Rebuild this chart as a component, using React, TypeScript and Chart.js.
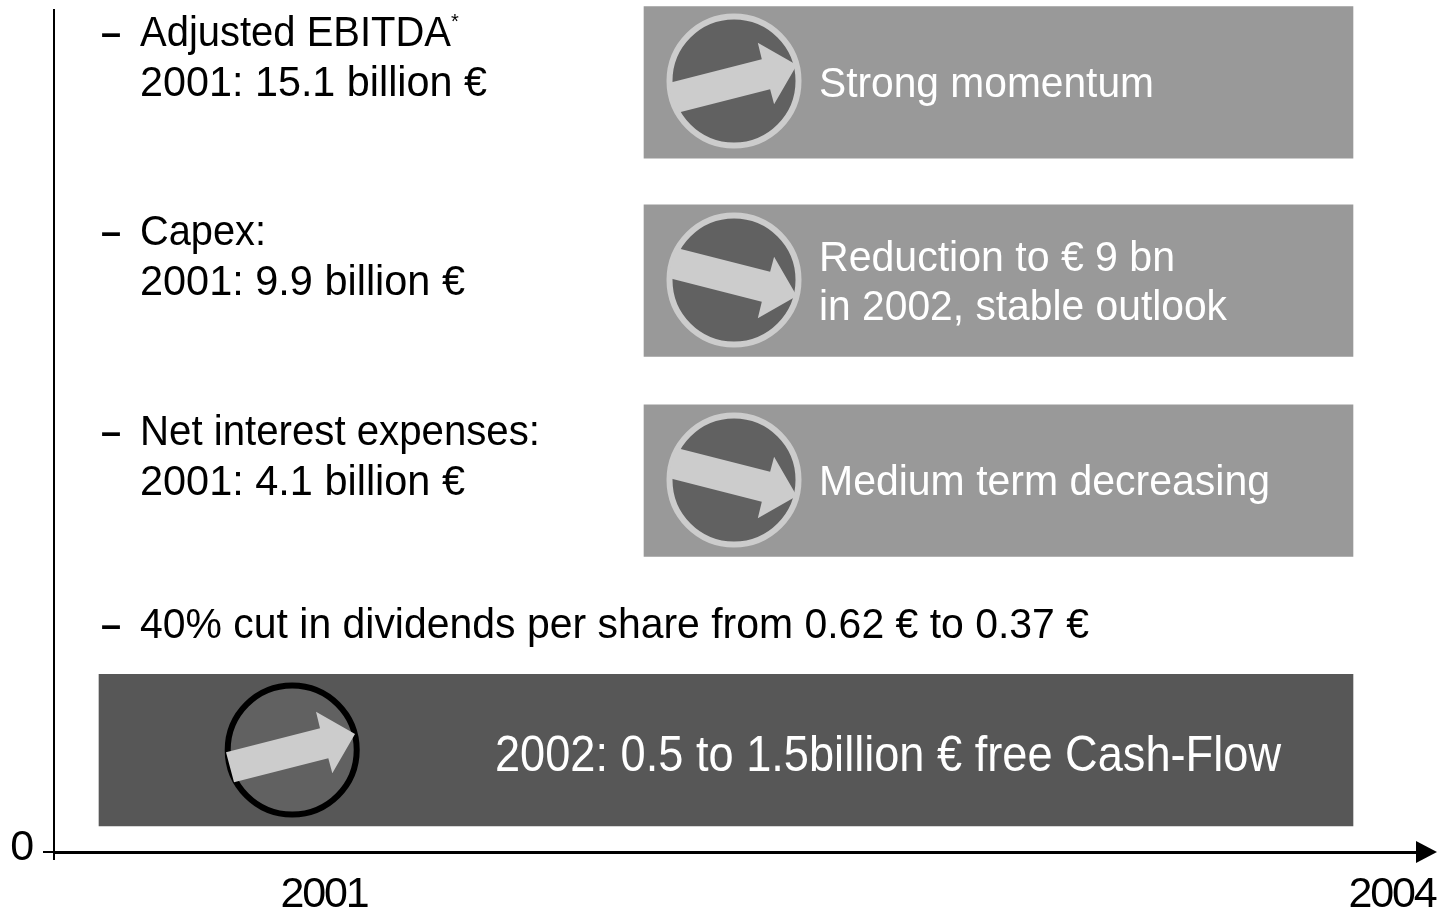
import React, { useEffect, useRef } from "react";
import { Chart, registerables } from "chart.js";

Chart.register(...registerables);

const yearTicks = [2001, 2004];
const valueTicks = [0];
const panelRows = [91.4, 67.85, 44.1, 12.1];
const panelStarts = [2001.8989, 2001.8989, 2001.8989, 2000.368];
const panelEnds = [2003.8904, 2003.8904, 2003.8904, 2003.8904];
const trendYears = [2002.1517, 2002.1517, 2002.1517, 2000.9107];
const trendRows = [91.57, 67.93, 44.18, 12.11];
const trendDirections = [1, -1, -1, 1];
const leftLabels = [
  ["Adjusted EBITDA", "2001: 15.1 billion €"],
  ["Capex:", "2001: 9.9 billion €"],
  ["Net interest expenses:", "2001: 4.1 billion €"],
  ["40% cut in dividends per share from 0.62 € to 0.37 €"],
];
const panelLabels = [
  ["Strong momentum"],
  ["Reduction to € 9 bn", "in 2002, stable outlook"],
  ["Medium term decreasing"],
];
const summaryLabel = "2002: 0.5 to 1.5billion € free Cash-Flow";

const FONT = '"Liberation Sans", Arial, sans-serif';
const ARROW = [
  [-66.2, 2.3], [27.8, -21.7], [23.8, -38.3], [62.8, -16], [40.1, 23.3], [36.1, 8.3], [-58.2, 32.3],
];

const overlay = {
  id: "overlay",
  beforeDraw(chart: any) {
    chart.ctx.letterSpacing = "-2.2px";
  },
  afterDatasetsDraw(chart: any) {
    const { ctx, chartArea, scales } = chart;
    ctx.letterSpacing = "0px";
    const { left, right, bottom } = chartArea;
    const axisY = scales.y.getPixelForValue(0);
    ctx.save();
    ctx.strokeStyle = "#000";
    ctx.fillStyle = "#000";
    ctx.lineWidth = 2;
    ctx.beginPath();
    ctx.moveTo(left, bottom);
    ctx.lineTo(left, bottom + 8);
    ctx.stroke();
    ctx.beginPath();
    ctx.moveTo(right - 1, axisY - 11);
    ctx.lineTo(right + 20, axisY);
    ctx.lineTo(right - 1, axisY + 11);
    ctx.closePath();
    ctx.fill();

    const meta = chart.getDatasetMeta(1);
    meta.data.forEach((pt: any, i: number) => {
      const d = trendDirections[i];
      ctx.fillStyle = "#cccccc";
      ctx.beginPath();
      ARROW.forEach(([ax, ay], k) => {
        const px = pt.x + ax;
        const py = pt.y + ay * d;
        if (k === 0) ctx.moveTo(px, py);
        else ctx.lineTo(px, py);
      });
      ctx.closePath();
      ctx.fill();
    });

    ctx.textAlign = "left";
    ctx.textBaseline = "alphabetic";
    const draw = (s: string, x: number, xEnd: number | null, y: number, size: number, color: string, weight = "normal") => {
      ctx.font = `${weight} ${size}px ${FONT}`;
      ctx.fillStyle = color;
      const sx = xEnd !== null ? (xEnd - x) / ctx.measureText(s).width : 1;
      ctx.save();
      ctx.translate(x, y);
      ctx.scale(sx, 1);
      ctx.fillText(s, 0, 0);
      ctx.restore();
    };
    const baselines = [[46, 96], [245, 295], [445, 495], [638]];
    const leftEnds = [[451, 487], [266, 465], [540, 465], [1089]];
    leftLabels.forEach((lines, i) => {
      draw("–", 101, null, baselines[i][0] - 1, 36, "#000", "bold");
      lines.forEach((s, k) => draw(s, 140, leftEnds[i][k], baselines[i][k], 43, "#000"));
    });
    draw("*", 451, null, 28, 20, "#000");
    const panelBaselines = [[97], [270.5, 320], [495]];
    const panelEndsAll = [[1154], [1175, 1227], [1270]];
    panelLabels.forEach((lines, i) => {
      lines.forEach((s, k) => draw(s, 819, panelEndsAll[i][k], panelBaselines[i][k], 43, "#fff"));
    });
    draw(summaryLabel, 495, 1281, 770.5, 50, "#fff");
    ctx.restore();
  },
};

const pinPadding = (s: any) => {
  s.paddingLeft = 0;
  s.paddingRight = 0;
  s.paddingTop = 0;
  s.paddingBottom = 0;
};

export default function App() {
  const ref = useRef<HTMLCanvasElement>(null);
  useEffect(() => {
    const chart = new Chart(ref.current!, {
      type: "bar",
      data: {
        datasets: [
          {
            type: "bar",
            indexAxis: "y",
            order: 2,
            clip: false,
            barThickness: 151.5,
            data: panelRows.map((y, i) => ({ x: [panelStarts[i], panelEnds[i]], y })),
            backgroundColor: panelRows.map((_, i) => (i === 3 ? "#575757" : "#999999")),
            borderWidth: 0,
          },
          {
            type: "scatter",
            order: 1,
            clip: false,
            data: trendYears.map((x, i) => ({ x, y: trendRows[i] })),
            pointRadius: 64.5,
            pointHoverRadius: 64.5,
            pointBorderWidth: 6,
            pointBackgroundColor: "#616161",
            pointBorderColor: panelRows.map((_, i) => (i === 3 ? "#000000" : "#cccccc")),
          },
        ] as any,
      },
      options: {
        responsive: false,
        animation: false,
        layout: { autoPadding: false, padding: { top: 10, right: 26, left: 0, bottom: 0 } },
        plugins: { legend: { display: false }, tooltip: { enabled: false }, title: { display: false } },
        scales: {
          x: {
            type: "linear",
            offset: false,
            min: 2000.24157,
            max: 2004.07022,
            grid: { display: false, offset: false },
            border: { display: true, color: "#000", width: 3 },
            ticks: {
              color: "#000",
              font: { family: FONT, size: 43 },
              padding: 9,
              maxRotation: 0,
              autoSkip: false,
              callback: (v: any) => String(v),
            },
            afterBuildTicks: (s: any) => {
              s.ticks = yearTicks.map((value) => ({ value }));
            },
            afterFit: (s: any) => {
              s.height = 62;
              pinPadding(s);
            },
          },
          y: {
            type: "linear",
            offset: false,
            min: 0,
            max: 100,
            grid: { display: true, offset: false, drawOnChartArea: false, drawTicks: true, tickLength: 11, color: "#000", lineWidth: 2 },
            border: { display: true, color: "#000", width: 2 },
            ticks: {
              color: "#000",
              font: { family: FONT, size: 43 },
              padding: 11,
              labelOffset: -4,
              callback: (v: any) => String(v),
            },
            afterBuildTicks: (s: any) => {
              s.ticks = valueTicks.map((value) => ({ value }));
            },
            afterFit: (s: any) => {
              s.width = 54;
              pinPadding(s);
            },
          },
        },
      } as any,
      plugins: [overlay],
    });
    return () => chart.destroy();
  }, []);
  return (
    <div style={{ position: "absolute", left: 0, top: 0 }}>
      <canvas ref={ref} width={1443} height={914} style={{ display: "block" }} />
    </div>
  );
}
